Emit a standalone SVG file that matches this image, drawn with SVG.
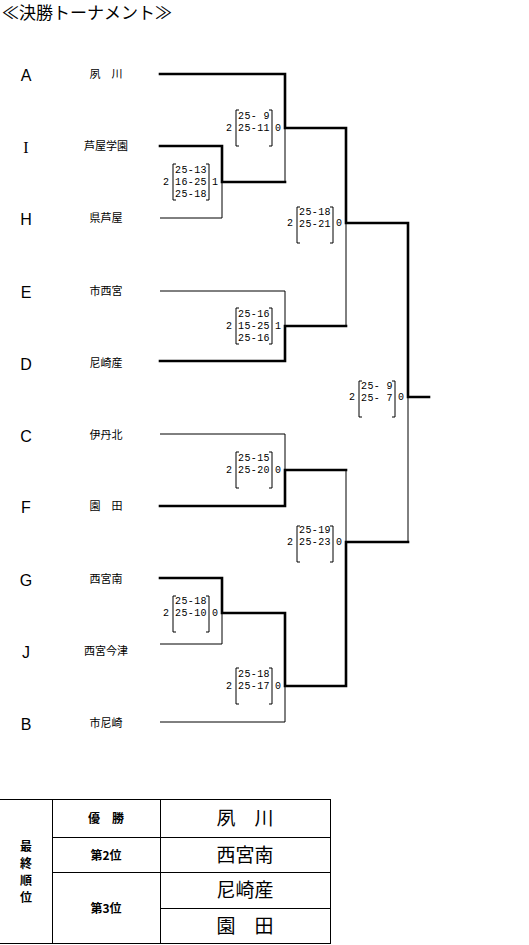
<svg xmlns="http://www.w3.org/2000/svg" width="529" height="945" viewBox="0 0 529 945">
<style>
.bg{fill:#fff}
.thk{stroke:#000;stroke-width:2.6;fill:none;stroke-linecap:square}
.thn{stroke:#000;stroke-width:1;fill:none}
.ttl{font-family:"Noto Sans CJK JP","Noto Sans CJK SC",sans-serif;font-size:17px;fill:#000}
.let{font-family:"Liberation Sans",Arial,sans-serif;font-size:16px;fill:#000;text-anchor:middle}
.nm{font-family:"Noto Sans CJK JP","Noto Sans CJK SC",sans-serif;font-size:11px;fill:#000;text-anchor:middle}
.sc{font-family:"Liberation Mono","DejaVu Sans Mono",monospace;font-size:10px;letter-spacing:0.4px;fill:#000;white-space:pre}
.sn{font-family:"Liberation Mono","DejaVu Sans Mono",monospace;font-size:10px;fill:#000;text-anchor:middle}
.br{stroke:#000;stroke-width:1;fill:none}
.tb{font-family:"Noto Sans CJK JP","Noto Sans CJK SC",sans-serif;font-size:12px;font-weight:bold;fill:#000;text-anchor:middle}
.tn{font-family:"Noto Sans CJK JP","Noto Sans CJK SC",sans-serif;font-size:19px;fill:#000;text-anchor:middle}
</style>
<rect class="bg" x="0" y="0" width="529" height="945"/>
<text class="ttl" x="2" y="19">≪決勝トーナメント≫</text>

<g id="teams">
<g id="team-A"><text class="let" x="26" y="81">A</text><text class="nm" x="106" y="78">夙　川</text></g>
<g id="team-I"><text class="let" x="26" y="153" style="font-family:'Liberation Serif',serif">I</text><text class="nm" x="106" y="150">芦屋学園</text></g>
<g id="team-H"><text class="let" x="26" y="225">H</text><text class="nm" x="106" y="222">県芦屋</text></g>
<g id="team-E"><text class="let" x="26" y="298">E</text><text class="nm" x="106" y="295">市西宮</text></g>
<g id="team-D"><text class="let" x="26" y="370">D</text><text class="nm" x="106" y="367">尼崎産</text></g>
<g id="team-C"><text class="let" x="26" y="442">C</text><text class="nm" x="106" y="439">伊丹北</text></g>
<g id="team-F"><text class="let" x="26" y="513">F</text><text class="nm" x="106" y="510">園　田</text></g>
<g id="team-G"><text class="let" x="26" y="586">G</text><text class="nm" x="106" y="583">西宮南</text></g>
<g id="team-J"><text class="let" x="26" y="658">J</text><text class="nm" x="106" y="655">西宮今津</text></g>
<g id="team-B"><text class="let" x="26" y="730">B</text><text class="nm" x="106" y="727">市尼崎</text></g>
</g>

<g id="connectors">
<path class="thn" d="M160 218H222V182 M285 128V182 M160 291H285V326 M346 223V326 M160 434H285V470 M346 470V542 M160 644H222V613 M160 722H285V686 M408 397V542"/>
<path class="thk" d="M160 74H285V128H346V223H408V397H429"/>
<path class="thk" d="M160 146H222V182H285"/>
<path class="thk" d="M160 361H285V326H346"/>
<path class="thk" d="M160 506H285V470H346"/>
<path class="thk" d="M160 578H222V613H285V686H346V542H408"/>
</g>

<g id="scores">
<g id="s1">
<text class="sn" x="229" y="131">2</text>
<path class="br" d="M239 110h-3v36h3 M269 110h3v36h-3"/>
<text class="sc" x="238" y="119">25- 9</text>
<text class="sc" x="238" y="131">25-11</text>
<text class="sn" x="278" y="131">0</text>
</g>
<g id="s2">
<text class="sn" x="166" y="185">2</text>
<path class="br" d="M176 164h-3v36h3 M206 164h3v36h-3"/>
<text class="sc" x="175" y="173">25-13</text>
<text class="sc" x="175" y="185">16-25</text>
<text class="sc" x="175" y="197">25-18</text>
<text class="sn" x="215" y="185">1</text>
</g>
<g id="s3">
<text class="sn" x="290" y="226">2</text>
<path class="br" d="M300 207h-3v36h3 M330 207h3v36h-3"/>
<text class="sc" x="299" y="215">25-18</text>
<text class="sc" x="299" y="227">25-21</text>
<text class="sn" x="339" y="226">0</text>
</g>
<g id="s4">
<text class="sn" x="229" y="329">2</text>
<path class="br" d="M239 308h-3v36h3 M269 308h3v36h-3"/>
<text class="sc" x="238" y="317">25-16</text>
<text class="sc" x="238" y="329">15-25</text>
<text class="sc" x="238" y="341">25-16</text>
<text class="sn" x="278" y="329">1</text>
</g>
<g id="s5">
<text class="sn" x="352" y="400">2</text>
<path class="br" d="M362 381h-3v36h3 M392 381h3v36h-3"/>
<text class="sc" x="361" y="389">25- 9</text>
<text class="sc" x="361" y="401">25- 7</text>
<text class="sn" x="401" y="400">0</text>
</g>
<g id="s6">
<text class="sn" x="229" y="473">2</text>
<path class="br" d="M239 452h-3v36h3 M269 452h3v36h-3"/>
<text class="sc" x="238" y="461">25-15</text>
<text class="sc" x="238" y="473">25-20</text>
<text class="sn" x="278" y="473">0</text>
</g>
<g id="s7">
<text class="sn" x="290" y="545">2</text>
<path class="br" d="M300 526h-3v36h3 M330 526h3v36h-3"/>
<text class="sc" x="299" y="533">25-19</text>
<text class="sc" x="299" y="545">25-23</text>
<text class="sn" x="339" y="545">0</text>
</g>
<g id="s8">
<text class="sn" x="166" y="616">2</text>
<path class="br" d="M176 596h-3v36h3 M206 596h3v36h-3"/>
<text class="sc" x="175" y="604">25-18</text>
<text class="sc" x="175" y="616">25-10</text>
<text class="sn" x="215" y="616">0</text>
</g>
<g id="s9">
<text class="sn" x="229" y="689">2</text>
<path class="br" d="M239 668h-3v36h3 M269 668h3v36h-3"/>
<text class="sc" x="238" y="677">25-18</text>
<text class="sc" x="238" y="689">25-17</text>
<text class="sn" x="278" y="689">0</text>
</g>
</g>

<g id="ranking">
<path class="thn" d="M0 799.5H330 M0 943.5H330 M52.5 799V944 M160.5 799V944 M330.5 799V944 M52 837.5H330 M52 872.5H330 M160 908.5H330"/>
<text class="tb" x="26" y="851">最</text>
<text class="tb" x="26" y="868">終</text>
<text class="tb" x="26" y="885">順</text>
<text class="tb" x="26" y="902">位</text>
<text class="tb" x="106" y="823">優　勝</text>
<text class="tb" x="106" y="860">第2位</text>
<text class="tb" x="106" y="913">第3位</text>
<text class="tn" x="245" y="825">夙　川</text>
<text class="tn" x="245" y="862">西宮南</text>
<text class="tn" x="245" y="897">尼崎産</text>
<text class="tn" x="245" y="933">園　田</text>
</g>
</svg>
